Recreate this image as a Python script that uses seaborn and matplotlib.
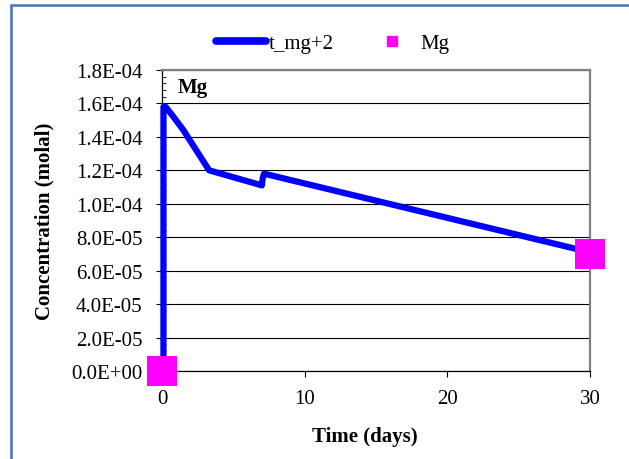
import matplotlib
matplotlib.use("Agg")
import matplotlib.pyplot as plt
import seaborn as sns
import pandas as pd
from matplotlib.lines import Line2D
from matplotlib.patches import Rectangle
from matplotlib.ticker import MultipleLocator, FuncFormatter

# Model curve (t_mg+2)
time_days = [0.1, 0.1, 0.25, 0.8, 1.5, 2.7, 3.3, 7.0, 7.05, 7.15, 30.0]
conc_model = [0.0, 1.58e-4, 1.58e-4, 1.52e-4, 1.44e-4, 1.28e-4, 1.20e-4, 1.11e-4, 1.15e-4, 1.18e-4, 7.1e-5]

# Observed Mg
obs_time = [0.0, 30.0]
obs_conc = [0.0, 7.0e-5]

x_ticks = [0, 10, 20, 30]
y_ticks = [i * 2e-5 for i in range(10)]

sns.set_style("white")
plt.rcParams["font.family"] = ["Liberation Serif", "DejaVu Serif"]
plt.rcParams["text.color"] = "black"
plt.rcParams["axes.labelcolor"] = "black"
plt.rcParams["xtick.color"] = "black"
plt.rcParams["ytick.color"] = "black"

FS = 15

fig = plt.figure(figsize=(6.29, 4.60), dpi=100)
ax = fig.add_axes([0.2576, 0.1913, 0.6804, 0.6544])

df_model = pd.DataFrame({"t": time_days, "c": conc_model})
df_obs = pd.DataFrame({"t": obs_time, "c": obs_conc})

sns.lineplot(data=df_model, x="t", y="c", sort=False, estimator=None, ax=ax,
             color="#0000FF", lw=4.5, solid_capstyle="round", solid_joinstyle="round",
             zorder=3)
for ln in ax.lines:
    ln.set_clip_on(False)
sns.scatterplot(data=df_obs, x="t", y="c", ax=ax, marker="s", s=440, color="#FF00FF",
                edgecolor="none", zorder=4, clip_on=False)

ax.set_xlim(0, 30)
ax.set_ylim(0, 1.8e-4)
ax.set_xticks(x_ticks)
ax.set_yticks(y_ticks)
ax.yaxis.set_major_formatter(FuncFormatter(lambda v, p: f"{v:.1E}"))
ax.yaxis.set_minor_locator(MultipleLocator(4e-6))
ax.grid(axis="y", color="black", lw=0.8)
ax.set_axisbelow(True)

for s in ["top", "right"]:
    ax.spines[s].set_color("#808080")
    ax.spines[s].set_linewidth(1.6)
for s in ["left", "bottom"]:
    ax.spines[s].set_color("black")
    ax.spines[s].set_linewidth(0.9)

ax.tick_params(axis="y", which="major", direction="out", length=4, width=0.8,
               labelsize=FS, pad=10, left=True)
ax.tick_params(axis="y", which="minor", direction="in", length=3, width=0.6, left=True)
ax.tick_params(axis="x", which="major", direction="out", length=4, width=0.8,
               labelsize=FS, pad=9, bottom=True)

ax.set_xlabel("Time (days)", fontsize=FS, fontweight="bold", labelpad=13, x=0.474)
ax.set_ylabel("Concentration (molal)", fontsize=FS, fontweight="bold", labelpad=12)

ax.text(0.037, 0.944, "Mg", transform=ax.transAxes, fontsize=FS, fontweight="bold",
        ha="left", va="center")

handles = [
    Line2D([], [], color="#0000FF", lw=5.5, solid_capstyle="round"),
    Line2D([], [], color="#FF00FF", marker="s", ls="none", markersize=7),
]
fig.legend(handles, ["t_mg+2", "Mg"], loc="center", bbox_to_anchor=(0.5285, 0.904),
           ncol=2, frameon=False, fontsize=FS, handlelength=2.4, handletextpad=0.15,
           columnspacing=1.6, borderpad=0, borderaxespad=0)

fig.patches.append(Rectangle((11 / 629, -0.1), 1.2, 1.1 - 6 / 460, transform=fig.transFigure,
                             fill=False, edgecolor="#4472C4", lw=1.8))

fig.savefig("out.png", dpi=100)
